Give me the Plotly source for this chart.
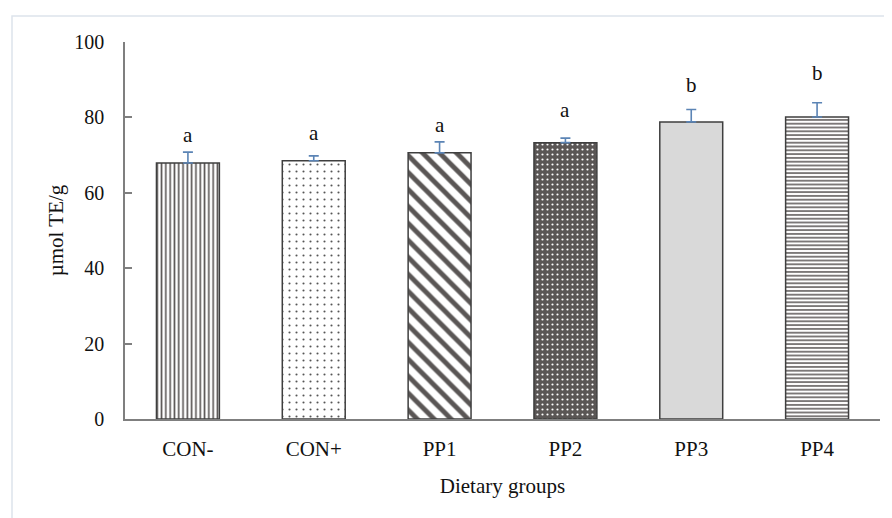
import plotly.graph_objects as go

categories = ["CON-", "CON+", "PP1", "PP2", "PP3", "PP4"]
values = [67.9, 68.5, 70.6, 73.3, 78.8, 80.1]
errors = [2.9, 1.3, 2.9, 1.2, 3.3, 3.8]
letters = ["a", "a", "a", "a", "b", "b"]
letter_y = [75.4, 75.9, 78.0, 82.0, 88.6, 91.8]  # heights (data units) of the significance letters

FONT = "Liberation Serif"
edge = "#3f3f3f"
dark = "#5a5655"

patterns = [
    dict(shape="|", fgcolor=dark, bgcolor="white", size=4.3, solidity=0.38),
    dict(shape=".", fgcolor="#555555", bgcolor="white", size=7, solidity=0.07),
    dict(shape="\\", fgcolor=dark, bgcolor="white", size=12, solidity=0.4),
    dict(shape=".", fgcolor="white", bgcolor=dark, size=5, solidity=0.15),
    None,
    dict(shape="-", fgcolor=dark, bgcolor="white", size=3.8, solidity=0.4),
]
colors = ["white", "white", "white", dark, "#d9d9d9", "white"]

# page body has an 8px margin: compensate so the plot lands where the reference has it
OFF = 8
W, H = 892, 518
PL, PR, PT, PB = 125, 880, 42, 419.5  # plot area in page pixels

fig = go.Figure()
for i, c in enumerate(categories):
    p = patterns[i]
    marker = dict(color=colors[i], line=dict(color=edge, width=1.5))
    if p:
        marker["pattern"] = dict(shape=p["shape"], fgcolor=p["fgcolor"], bgcolor=p["bgcolor"],
                                 size=p["size"], solidity=p["solidity"], fillmode="replace")
    fig.add_trace(go.Bar(
        x=[c], y=[values[i]], width=0.5, marker=marker,
        error_y=dict(type="data", array=[errors[i]], arrayminus=[0], symmetric=False,
                     color="#5b84b5", thickness=1.6, width=5),
        showlegend=False,
    ))

for c, ly, t in zip(categories, letter_y, letters):
    fig.add_annotation(x=c, y=ly, text=t, showarrow=False, yanchor="middle",
                       font=dict(family=FONT, size=21, color="#111111"))

pw = PR - PL
ph = PB - PT
fx0 = (12 - PL) / pw
fy1 = (PB - 16) / ph
fig.add_shape(type="rect", xref="paper", yref="paper", x0=fx0, x1=1.3, y0=-0.6, y1=fy1,
              line=dict(color="#dde4ec", width=1.5), fillcolor="rgba(0,0,0,0)", layer="below")

fig.update_layout(
    width=W, height=H,
    margin=dict(l=PL - OFF, r=W + OFF - PR, t=PT - OFF, b=H + OFF - PB, autoexpand=False),
    paper_bgcolor="white", plot_bgcolor="white",
    barmode="overlay",
    font=dict(family=FONT, size=21, color="#111111"),
    xaxis=dict(
        type="category", categoryorder="array", categoryarray=categories,
        range=[-0.5, 5.5], showline=True, linecolor="#7f7f7f", linewidth=1.5,
        ticks="", ticklabelstandoff=10, showgrid=False,
        title=dict(text="Dietary groups", standoff=18, font=dict(family=FONT, size=21)),
        tickfont=dict(family=FONT, size=21),
    ),
    yaxis=dict(
        range=[0, 100], tickvals=[0, 20, 40, 60, 80, 100], showline=True,
        linecolor="#7f7f7f", linewidth=1.5, ticks="inside", ticklen=7, tickcolor="#7f7f7f",
        tickwidth=1.5, ticklabelstandoff=15, showgrid=False, zeroline=False,
        title=dict(text="µmol TE/g", standoff=5, font=dict(family=FONT, size=21)),
        tickfont=dict(family=FONT, size=20),
    ),
)

fig.write_html("out.html")
